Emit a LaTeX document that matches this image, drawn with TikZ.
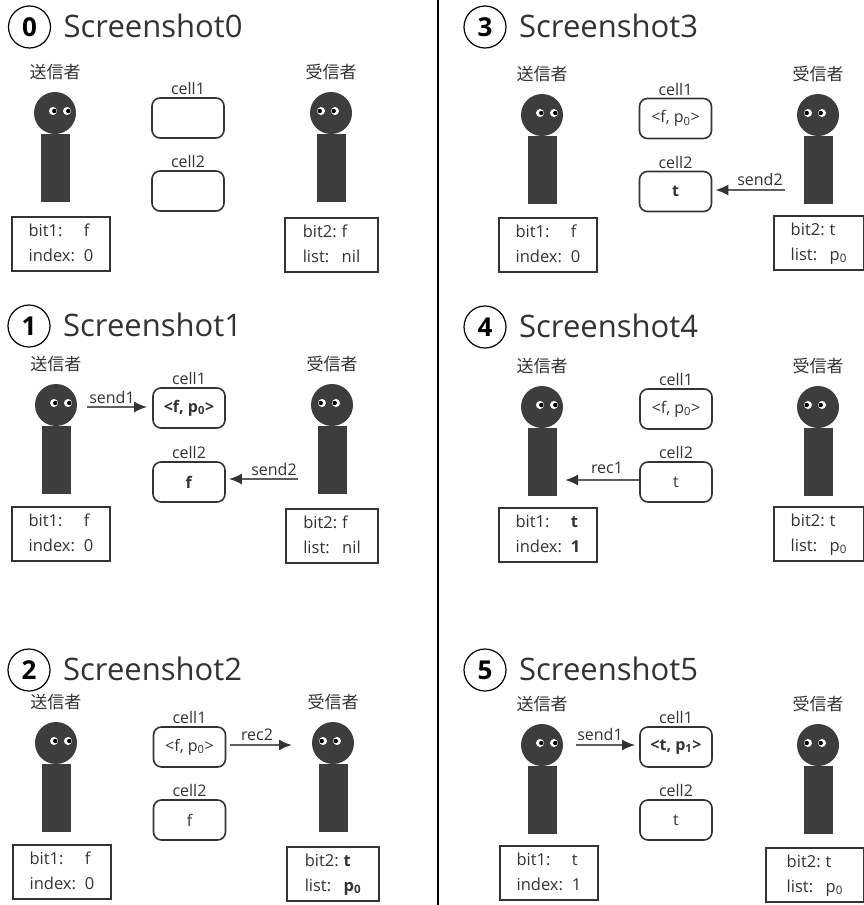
\documentclass[tikz,border=0pt]{standalone}
\usepackage{fontspec}
\setmainfont{Open Sans}
\newfontfamily\jpfont{Noto Sans CJK JP}
\usetikzlibrary{arrows.meta}

\definecolor{ink}{HTML}{333333}
\definecolor{figfill}{HTML}{3D3D3D}
\definecolor{wire}{HTML}{5E5E5E}

\tikzset{
  headshape/.style={circle, fill=figfill, minimum size=42pt, inner sep=0pt},
  bodyshape/.style={rectangle, fill=figfill, minimum width=29pt, minimum height=68pt, inner sep=0pt, anchor=north},
  rolelabel/.style={font=\jpfont\fontsize{17}{20}\selectfont, text=ink, inner sep=0pt},
  cellbox/.style={draw=ink, line width=1.6pt, rounded corners=8pt, minimum width=72pt,
                  minimum height=40pt, inner sep=0pt, font=\fontsize{16}{19}\selectfont, text=ink},
  celllabel/.style={font=\fontsize{16}{19}\selectfont, text=ink, inner sep=1pt, anchor=south},
  infobox/.style={draw=ink, line width=1.6pt, minimum height=54pt, inner sep=0pt,
                  font=\fontsize{16.5}{25}\selectfont, text=ink},
  numcircle/.style={circle, draw=black, line width=1.2pt, minimum size=42pt, inner sep=0pt,
                    font=\bfseries\fontsize{26}{28}\selectfont},
  titletext/.style={font=\fontsize{31}{33}\selectfont, text=ink, inner sep=0pt, anchor=base west},
  flow/.style={draw=wire, line width=2pt, -{Latex[length=13pt,width=11pt,color=ink]}},
  flowlabel/.style={font=\fontsize{16}{19}\selectfont, text=ink, inner sep=1pt, anchor=south},
}

% panel heading: circled number and caption
\newcommand{\paneltitle}[4]{%
  \node[numcircle] (#1c) at (#2,#3) {#4};
  \node[titletext] (#1t) at (#2+34,#3+10) {Screenshot#4};
}
% a stick figure: label, head, body and two eyes (#5 = first eye dx, #6 = pupil dx)
\newcommand{\person}[6]{%
  \node[rolelabel] (#1l) at (#2,#3-41) {#4};
  \node[headshape] (#1h) at (#2,#3) {};
  \node[bodyshape] (#1b) at (#2,#3+21) {};
  \fill[white] (#2+#5,#3-2) circle[radius=4pt] (#2+#5+14,#3-2) circle[radius=4pt];
  \fill[black] (#2+#5+#6,#3-2) circle[radius=2.2pt] (#2+#5+14+#6,#3-2) circle[radius=2.2pt];
}
\newcommand{\sender}[3]{\person{#1}{#2}{#3}{送信者}{-2}{1.3}}
\newcommand{\receiver}[3]{\person{#1}{#2}{#3}{受信者}{-10}{-1.3}}
% the two shared cells with their captions
\newcommand{\cells}[6]{%
  \node[cellbox] (#1a) at (#2,#3) {#5};
  \node[celllabel] (#1al) at ([yshift=1pt]#1a.north) {cell1};
  \node[cellbox] (#1b) at (#2,#4) {#6};
  \node[celllabel] (#1bl) at ([yshift=1pt]#1b.north) {cell2};
}
\newcommand{\sendvars}[2]{\begin{tabular}{@{}l@{\hspace{9pt}}l@{}}bit1: & #1\\ index: & #2\end{tabular}}
\newcommand{\recvvars}[2]{\begin{tabular}{@{}l@{\hspace{5pt}}l@{}}bit2: & #1\\ list: & #2\end{tabular}}
\newcommand{\pz}{p\textsubscript{0}}

\begin{document}
\begin{tikzpicture}[x=1pt, y=-1pt]
\useasboundingbox (0,0) rectangle (864,905);
\fill[white] (0,0) rectangle (864,905);

% column divider
\draw[line width=1.5pt, black] (438,0) -- (438,905);

% ---- Screenshot0 ----
\paneltitle{t0}{29.5}{27}{0}
\sender{s0}{55}{113}
\receiver{r0}{331}{113}
\cells{c0}{188}{118}{191}{}{}
\node[infobox, minimum width=98pt, anchor=north] (s0v) at (61,216) {\sendvars{f}{0}};
\node[infobox, minimum width=93pt, anchor=north] (r0v) at (331.5,217) {\recvvars{f}{nil}};

% ---- Screenshot1 ----
\paneltitle{t1}{29}{326}{1}
\sender{s1}{56}{405}
\receiver{r1}{332}{405}
\cells{c1}{189}{408}{482}{\textbf{<f, \pz>}}{\textbf{f}}
\node[infobox, minimum width=98pt, anchor=north] (s1v) at (61,506) {\sendvars{f}{0}};
\node[infobox, minimum width=92pt, anchor=north] (r1v) at (332,508) {\recvvars{f}{nil}};
\coordinate (a1s) at (87,407);
\draw[flow, shorten >=5pt] (a1s) -- (a1s -| c1a.west);
\node[flowlabel] (a1l) at (112,405) {send1};
\coordinate (b1s) at (298,479);
\draw[flow, shorten >=3pt] (b1s) -- (b1s -| c1b.east);
\node[flowlabel] (b1l) at (274,477) {send2};

% ---- Screenshot2 ----
\paneltitle{t2}{29}{670}{2}
\sender{s2}{56}{743}
\receiver{r2}{333}{743}
\cells{c2}{189.5}{747}{820}{<f, \pz>}{f}
\node[infobox, minimum width=98pt, anchor=north] (s2v) at (62,844) {\sendvars{f}{0}};
\node[infobox, minimum width=92pt, anchor=north] (r2v) at (333,846) {\recvvars{\textbf{t}}{\textbf{\pz}}};
\coordinate (a2e) at (292,745);
\draw[flow, shorten <=4pt] (a2e -| c2a.east) -- (a2e);
\node[flowlabel] (a2l) at (257,742) {rec2};

% ---- Screenshot3 ----
\paneltitle{t3}{485}{27}{3}
\sender{s3}{542}{115}
\receiver{r3}{818}{115}
\cells{c3}{675.5}{118.5}{191.5}{<f, \pz>}{\textbf{t}}
\node[infobox, minimum width=98pt, anchor=north] (s3v) at (548,217) {\sendvars{f}{0}};
\node[infobox, minimum width=90pt, anchor=north west] (r3v) at (773,215) {\recvvars{t}{\pz}};
\coordinate (b3s) at (785,190);
\draw[flow, shorten >=3pt] (b3s) -- (b3s -| c3b.east);
\node[flowlabel] (b3l) at (760,187) {send2};

% ---- Screenshot4 ----
\paneltitle{t4}{485}{327}{4}
\sender{s4}{542}{407}
\receiver{r4}{818}{407}
\cells{c4}{676}{409}{482}{<f, \pz>}{t}
\node[infobox, minimum width=98pt, anchor=north] (s4v) at (548,507) {\sendvars{\textbf{t}}{\textbf{1}}};
\node[infobox, minimum width=90pt, anchor=north west] (r4v) at (773,506) {\recvvars{t}{\pz}};
\coordinate (a4e) at (565,480);
\draw[flow] (a4e -| c4b.west) -- (a4e);
\node[flowlabel] (a4l) at (607,475) {rec1};

% ---- Screenshot5 ----
\paneltitle{t5}{485}{670}{5}
\sender{s5}{542}{745}
\receiver{r5}{818}{745}
\cells{c5}{676}{747}{820}{\textbf{<t, p\textsubscript{1}>}}{t}
\node[infobox, minimum width=98pt, anchor=north] (s5v) at (549,845) {\sendvars{t}{1}};
\node[infobox, minimum width=98pt, anchor=north west] (r5v) at (765,847) {\recvvars{t}{\pz}};
\coordinate (a5s) at (576,745);
\draw[flow, shorten >=4pt] (a5s) -- (a5s -| c5a.west);
\node[flowlabel] (a5l) at (600,742) {send1};

\end{tikzpicture}
\end{document}
